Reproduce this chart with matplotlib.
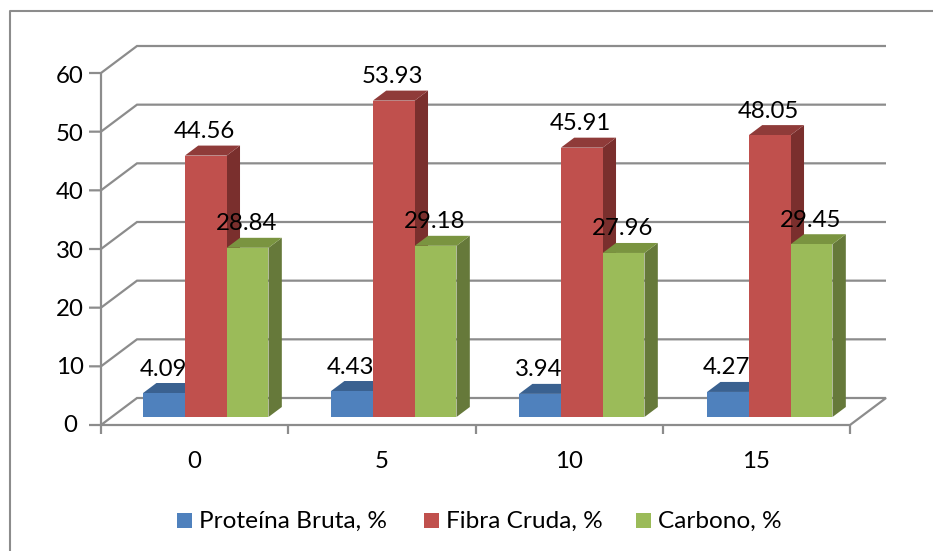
import matplotlib
matplotlib.use('Agg')
import matplotlib.pyplot as plt
from matplotlib.patches import Polygon, Rectangle

categories = ['0', '5', '10', '15']
proteina = [4.09, 4.43, 3.94, 4.27]
fibra = [44.56, 53.93, 45.91, 48.05]
carbono = [28.84, 29.18, 27.96, 29.45]
series_names = ['Proteína Bruta, %', 'Fibra Cruda, %', 'Carbono, %']
y_ticks = [0, 10, 20, 30, 40, 50, 60]

W, H = 933, 551
FS = 17.3
plt.rcParams['font.family'] = ['Lato', 'DejaVu Sans']

fig = plt.figure(figsize=(W / 100, H / 100), dpi=100)
# axes box = front plane of the 3d chart, in pixels
ax = fig.add_axes([101 / W, 1 - 425 / H, (850 - 101) / W, (425 - 73) / H])
ax.set_xlim(0, len(categories))
ax.set_ylim(0, 60)
ax.axis('off')

# depth of the chart box, converted to data units
unit_x = (850 - 101) / len(categories)
unit_y = (425 - 73) / 60
depth_x = 36 / unit_x
depth_y = 27 / unit_y

gray = '#8c8c8c'
bar_w = 41.8 / unit_x
bar_step = 188 / unit_x
front = 8 / 27
back = 18 / 27
bar_shift = 0.5 / unit_x


def proj(x, y, d):
    return (x + d * depth_x, y + d * depth_y)


def line(pts, lw=1.6, z=1):
    ax.plot([p[0] for p in pts], [p[1] for p in pts], color=gray, lw=lw, zorder=z,
            clip_on=False, solid_capstyle='butt', solid_joinstyle='miter')


n = len(categories)
# walls and floor
for v in y_ticks:
    line([(-12 / unit_x, v), proj(0, v, 0), proj(0, v, 1), proj(n, v, 1)] +
         ([proj(n, v, 0), proj(0, v, 0)] if v == 0 else []))
line([(0, 0), (0, 60)])
for i in range(n + 1):
    line([(i, 0), (i, -9 / unit_y)])

colors = [('#4f81bd', '#3a6190', '#2f5078'),
          ('#c0504d', '#8f3b39', '#7a2f2d'),
          ('#9bbb59', '#7a9440', '#66793a')]
all_values = [proteina, fibra, carbono]
gap = (1 - 3 * bar_w) / 2

for i in range(n):
    for s, values in enumerate(all_values):
        v = values[i]
        x0 = i * bar_step + gap + s * bar_w + bar_shift
        x1 = x0 + bar_w
        face, top, side = colors[s]
        z = 3 + s
        ax.add_patch(Polygon([proj(x1, 0, front), proj(x1, v, front), proj(x1, v, back), proj(x1, 0, back)],
                             facecolor=side, edgecolor='none', zorder=z, clip_on=False))
        ax.add_patch(Polygon([proj(x0, v, front), proj(x1, v, front), proj(x1, v, back), proj(x0, v, back)],
                             facecolor=top, edgecolor='none', zorder=z, clip_on=False))
        ax.add_patch(Polygon([proj(x0, 0, front), proj(x1, 0, front), proj(x1, v, front), proj(x0, v, front)],
                             facecolor=face, edgecolor='none', zorder=z, clip_on=False))
        lx, ly = proj((x0 + x1) / 2, v, front)
        ax.annotate(f'{v:.2f}', (lx, ly), xytext=(-1, 24), textcoords='offset pixels',
                    ha='center', va='center', fontsize=FS, color='black', zorder=10)

# tick labels
for v in y_ticks:
    ax.annotate(str(v), (0, v), xytext=(-31, -1 - v * 0.035), textcoords='offset pixels',
                ha='center', va='center', fontsize=FS, color='black')
for i, c in enumerate(categories):
    ax.annotate(c, (i + 0.5, 0), xytext=(0, -36), textcoords='offset pixels',
                ha='center', va='center', fontsize=FS, color='black')

# legend
legend_x = [177, 424, 636]
for lx, name, col in zip(legend_x, series_names, colors):
    fig.patches.append(Rectangle((lx / W, 1 - 528 / H), 15 / W, 15 / H, transform=fig.transFigure,
                                 facecolor=col[0], edgecolor='none'))
    fig.text((lx + 22) / W, 1 - 521 / H, name, ha='left', va='center', fontsize=17.6, color='black')

# chart frame, open on the right
fig.add_artist(plt.Line2D([9.5 / W, 9.5 / W, 1], [0, 1 - 10.5 / H, 1 - 10.5 / H],
                          color=gray, lw=1.5))

fig.savefig('out.png', dpi=100, facecolor='white')
